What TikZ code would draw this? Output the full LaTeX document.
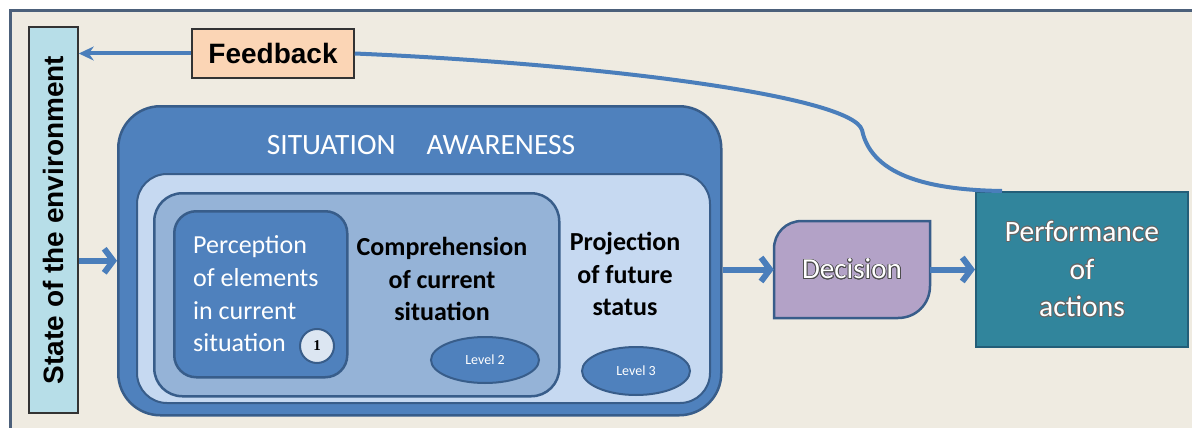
\documentclass[tikz,border=0pt]{standalone}
\usepackage{fontspec}
\setmainfont{Carlito}
\newfontfamily\arialfont{Liberation Sans}
\newfontfamily\seriffont{Liberation Serif}
\usepackage{contour}
\contourlength{0.8pt}
\usetikzlibrary{arrows.meta,shapes.geometric}
\definecolor{bgbeige}{RGB}{239,235,225}
\definecolor{framecol}{RGB}{76,96,122}
\definecolor{saBlue}{RGB}{79,129,189}
\definecolor{saDark}{RGB}{56,93,138}
\definecolor{projBlue}{RGB}{198,217,241}
\definecolor{compBlue}{RGB}{149,179,215}
\definecolor{oneFill}{RGB}{220,230,242}
\definecolor{stateFill}{RGB}{183,222,232}
\definecolor{feedFill}{RGB}{251,213,181}
\definecolor{decFill}{RGB}{179,162,199}
\definecolor{perfFill}{RGB}{49,133,156}
\definecolor{perfDark}{RGB}{35,94,120}
\definecolor{arrowBlue}{RGB}{74,126,187}
\begin{document}
\begin{tikzpicture}[x=1pt,y=-1pt,
    every node/.style={inner sep=0pt},
    nest/.style={rectangle,anchor=north west,draw=saDark,line width=2.5pt},
    lvl/.style={ellipse,fill=saBlue,draw=saDark,line width=2pt,text=white,
        font=\fontsize{14}{14}\selectfont},
    flow/.style={draw=arrowBlue,line width=6pt,-{Straight Barb[length=9pt,width=24pt]}},
    fb/.style={draw=arrowBlue,line width=4pt}]
    \useasboundingbox (0,0) rectangle (1192,428);
    \fill[white] (0,0) rectangle (1192,428);
    \fill[bgbeige] (10,10) rectangle (1192,428);
    \draw[framecol,line width=3pt] (10.5,428) -- (10.5,10.5) -- (1192,10.5);
    % left and top boxes
    \node[draw=black!80,fill=stateFill,line width=1.5pt,rotate=90,minimum width=386pt,minimum height=49pt,
        font=\arialfont\bfseries\fontsize{28}{28}\selectfont] (state) at (53.5,220) {State of the environment};
    \node[draw=black!80,fill=feedFill,line width=1.5pt,minimum width=162pt,minimum height=49pt,
        font=\arialfont\bfseries\fontsize{28}{28}\selectfont] (feed) at (273,53.5) {Feedback};
    % situation awareness
    \node[nest,fill=saBlue,rounded corners=42pt,minimum width=603pt,minimum height=309pt] (sa) at (117,105) {};
    \node[nest,fill=projBlue,line width=2pt,rounded corners=30pt,minimum width=573pt,minimum height=229pt] (proj) at (136,173) {};
    \node[nest,fill=compBlue,rounded corners=28pt,minimum width=405pt,minimum height=203pt] (comp) at (153,192) {};
    \node[nest,fill=saBlue,rounded corners=22pt,minimum width=173pt,minimum height=166pt] (perc) at (173,210) {};
    \node[text=white,font=\fontsize{29.5}{30}\selectfont] (satitle) at (421,145) {SITUATION\hspace{31pt}AWARENESS};
    \node[anchor=west,align=left,text=white,font=\fontsize{26}{32.7}\selectfont] (perctext) at (193,294)
        {Perception\\of elements\\in current\\situation};
    \node[circle,fill=oneFill,draw=saDark,line width=2pt,minimum size=34pt,
        font=\seriffont\bfseries\fontsize{15}{15}\selectfont] (one) at (317,346) {1};
    \node[align=center,font=\bfseries\fontsize{26}{32.5}\selectfont] (comptext) at (442,279)
        {Comprehension\\of current\\situation};
    \node[lvl,minimum width=108pt,minimum height=46pt] (lvltwo) at (485,360) {Level 2};
    \node[align=center,font=\bfseries\fontsize{26}{32.5}\selectfont] (projtext) at (625,274)
        {Projection\\of future\\status};
    \node[lvl,minimum width=108pt,minimum height=48pt] (lvlthree) at (636,371) {Level 3};
    % decision and actions
    \fill[decFill,draw=saDark,line width=2.5pt] (930,221) -- (930,286) .. controls (930,304) and (916,318) .. (898,318)
        -- (774,318) -- (774,249) .. controls (774,233) and (786,221) .. (802,221) -- cycle;
    \node[minimum width=156pt,minimum height=97pt,text=white,font=\fontsize{29}{29}\selectfont] (dec) at (852,269.5)
        {\contour{black!70}{Decision}};
    \node[draw=perfDark,fill=perfFill,line width=2pt,minimum width=212pt,minimum height=155pt,align=center,
        text=white,font=\fontsize{29.5}{37.5}\selectfont] (perf) at (1082,269.5)
        {\contour{black!60}{Performance}\\\contour{black!60}{of}\\\contour{black!60}{actions}};
    % connectors
    \draw[flow] (state.south |- sa.west) -- (sa.west);
    \draw[flow] (sa.east |- dec.west) -- (dec.west);
    \draw[flow] (dec.east) -- (perf.west);
    \draw[fb] ([xshift=27pt]perf.north west) .. controls (935,190) and (872,178) .. (862,130)
        .. controls (852,96) and (600,64) .. (feed.east);
    \draw[fb,-{Stealth[length=15pt,width=14pt]}] (feed.west) -- (state.south |- feed.west);
\end{tikzpicture}
\end{document}
